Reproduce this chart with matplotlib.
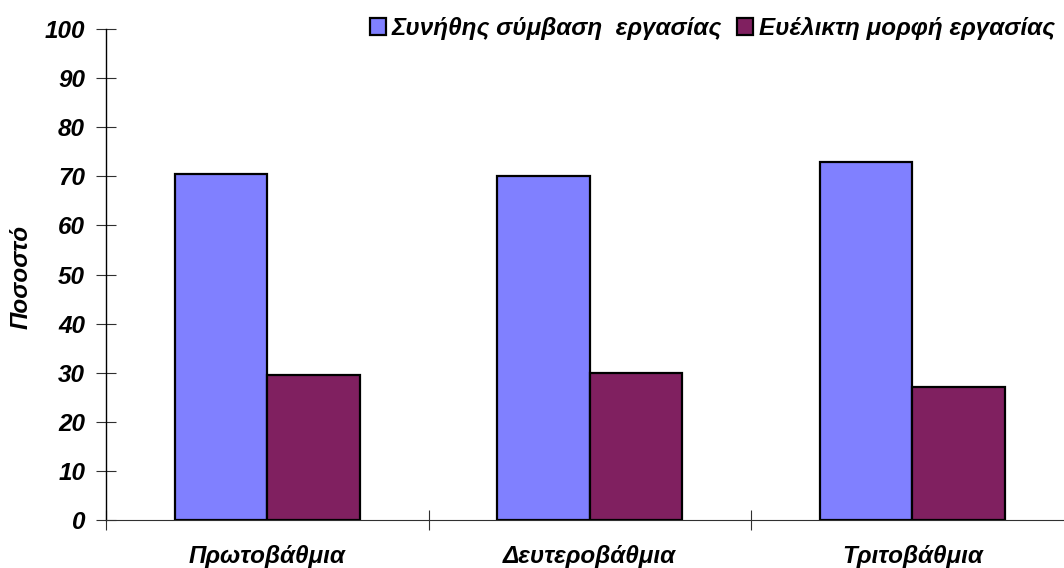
import numpy as np
import matplotlib.pyplot as plt
from matplotlib.patches import Patch

# Data
categories = ["Πρωτοβάθμια", "Δευτεροβάθμια", "Τριτοβάθμια"]
series_names = ["Συνήθης σύμβαση  εργασίας", "Ευέλικτη μορφή εργασίας"]
regular = [70.4, 70.1, 72.9]
flexible = [29.6, 29.9, 27.1]
colors = ["#8080FF", "#802060"]

plt.rcParams["font.family"] = ["Liberation Sans", "DejaVu Sans"]
fs = 17.5

fig = plt.figure(figsize=(10.64, 5.68), dpi=100)
ax = fig.add_axes([106 / 1064, 48 / 568, 967.5 / 1064, 491 / 568])

x = np.arange(len(categories)) + 0.5
w = 0.287
ax.bar(x - w / 2, regular, w, color=colors[0], edgecolor="black", linewidth=1.6, zorder=3)
ax.bar(x + w / 2, flexible, w, color=colors[1], edgecolor="black", linewidth=1.6, zorder=3)

ax.set_xlim(0, 3)
ax.set_ylim(0, 100)
ax.set_yticks(range(0, 101, 10))

ax.set_xticks(x)
ax.set_xticklabels(categories)
ax.set_xticks([0, 1, 2, 3], minor=True)
ax.tick_params(axis="x", which="major", length=0, pad=18)
ax.tick_params(axis="x", which="minor", direction="inout", length=15, width=0.8, color="#303030")
ax.tick_params(axis="y", direction="inout", length=14, width=0.8, pad=8, color="#303030")

for lab in ax.get_xticklabels() + ax.get_yticklabels():
    lab.set_fontsize(fs)
    lab.set_fontweight("bold")
    lab.set_fontstyle("italic")

for s in ["top", "right"]:
    ax.spines[s].set_visible(False)
ax.spines["left"].set_linewidth(1.0)
ax.spines["bottom"].set_linewidth(0.8)
ax.spines["bottom"].set_color("#303030")

fig.text(21 / 1064, 1 - 277 / 568, "Ποσοστό", rotation=90, ha="center", va="center",
         fontsize=fs, fontweight="bold", fontstyle="italic")

handles = [Patch(facecolor=c, edgecolor="black", linewidth=1.6) for c in colors]
leg = fig.legend(handles, series_names, loc="upper right", bbox_to_anchor=(1055 / 1064, 1 - 17 / 568),
                 ncol=2, frameon=False, borderpad=0, borderaxespad=0,
                 handlelength=0.66, handleheight=0.66,
                 handletextpad=0.25, columnspacing=0.6,
                 prop={"size": fs, "weight": "bold", "style": "italic"})

fig.savefig("out.png", dpi=100)
